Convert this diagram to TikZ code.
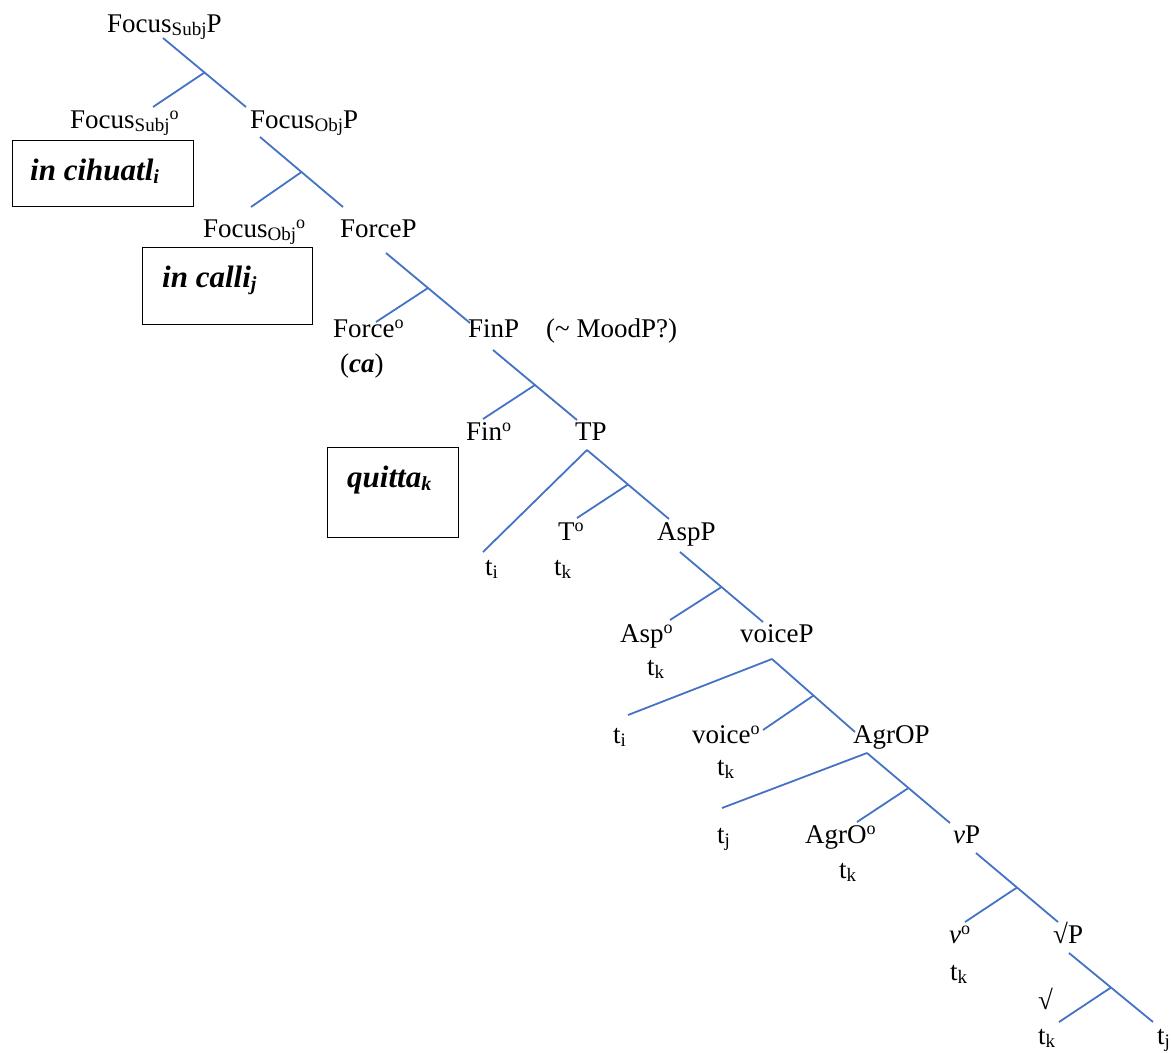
\documentclass[tikz,border=0pt]{standalone}
\usepackage{fontspec}
\setmainfont{Liberation Serif}
\usetikzlibrary{calc}
\definecolor{branch}{RGB}{68,114,196}
\newcommand\sbx[1]{\raisebox{-3pt}{\fontsize{19}{20}\selectfont #1}}
\newcommand\dgo{\raisebox{9pt}{\fontsize{18}{19}\selectfont o}}
\newcommand\bsb[1]{\raisebox{-3pt}{\fontsize{20}{22}\selectfont\bfseries\itshape #1}}
\newcommand\binbr[3]{\draw[br] (#1) -- (#2); \draw[br] ($(#1)!0.5!(#2)$) -- (#3);}
\begin{document}
\begin{tikzpicture}[x=1pt,y=-1pt,
  lab/.style={anchor=base west,inner sep=0pt,font=\fontsize{27}{30}\selectfont},
  boxt/.style={anchor=base west,inner sep=0pt,font=\fontsize{31}{34}\selectfont\bfseries\itshape},
  frame/.style={draw=black,line width=1.3pt,anchor=north west,inner sep=0pt},
  br/.style={draw=branch,line width=1.8pt}]
\useasboundingbox (0,0) rectangle (1171,1053);

% labels
\node[lab] (fsp) at (107,32) {Focus\sbx{Subj}P};
\node[lab] (fso) at (70,128) {Focus\sbx{Subj}\dgo};
\node[lab] (fop) at (250,128) {Focus\sbx{Obj}P};
\node[lab] (foo) at (203,237) {Focus\sbx{Obj}\dgo};
\node[lab] (frp) at (340,237) {ForceP};
\node[lab] (frh) at (333,337) {Force\dgo};
\node[lab] (ca) at (340,372) {(\textbf{\textit{ca}})};
\node[lab] (finp) at (468,337) {FinP};
\node[lab] (mood) at (546,337) {(\textasciitilde{} MoodP?)};
\node[lab] (finh) at (466,440) {Fin\dgo};
\node[lab] (tp) at (575,440) {TP};
\node[lab] (th) at (558,540) {T\dgo};
\node[lab] (ti1) at (485,575) {t\sbx{i}};
\node[lab] (tk1) at (554,575) {t\sbx{k}};
\node[lab] (aspp) at (657,540) {AspP};
\node[lab] (asph) at (620,642) {Asp\dgo};
\node[lab] (tk2) at (647,675) {t\sbx{k}};
\node[lab] (vcp) at (740,642) {voiceP};
\node[lab] (ti2) at (613,743) {t\sbx{i}};
\node[lab] (vch) at (692,743) {voice\dgo};
\node[lab] (tk3) at (717,775) {t\sbx{k}};
\node[lab] (agrp) at (853,743) {AgrOP};
\node[lab] (tj1) at (717,843) {t\sbx{j}};
\node[lab] (agrh) at (805,843) {AgrO\dgo};
\node[lab] (tk4) at (839,878) {t\sbx{k}};
\node[lab] (vp) at (953,843) {\textit{v}P};
\node[lab] (vh) at (949,943) {\textit{v}\dgo};
\node[lab] (tk5) at (950,980) {t\sbx{k}};
\node[lab] (rp) at (1053,943) {√P};
\node[lab] (rt) at (1038,1009) {√};
\node[lab] (tk6) at (1038,1044) {t\sbx{k}};
\node[lab] (tj2) at (1157,1044) {t\sbx{j}};

% boxes
\node[frame,minimum width=181pt,minimum height=66pt] (box1) at (12,140) {};
\node[boxt] (w1) at (30,180) {in cihuatl\bsb{i}};
\node[frame,minimum width=170pt,minimum height=77pt] (box2) at (142,247) {};
\node[boxt] (w2) at (162,287) {in calli\bsb{j}};
\node[frame,minimum width=131pt,minimum height=90pt] (box3) at (327,447) {};
\node[boxt] (w3) at (347,487) {quitta\bsb{k}};

% branch coordinates
\coordinate (a1) at (163,38);  \coordinate (b1) at (246,107); \coordinate (c1) at (153,107);
\coordinate (a2) at (260,137); \coordinate (b2) at (343,207); \coordinate (c2) at (251,207);
\coordinate (a3) at (386,253); \coordinate (b3) at (470,323); \coordinate (c3) at (376,322);
\coordinate (a4) at (493,350); \coordinate (b4) at (577,420); \coordinate (c4) at (483,419);
\coordinate (a5) at (587,450); \coordinate (b5) at (669,519); \coordinate (c5) at (577,518);
\coordinate (d5) at (483,552);
\coordinate (a6) at (680,552); \coordinate (b6) at (763,622); \coordinate (c6) at (670,620);
\coordinate (a7) at (772,659); \coordinate (b7) at (855,732); \coordinate (c7) at (763,730);
\coordinate (d7) at (628,715);
\coordinate (a8) at (867,753); \coordinate (b8) at (950,823); \coordinate (c8) at (857,822);
\coordinate (d8) at (722,808);
\coordinate (a9) at (976,853); \coordinate (b9) at (1058,922); \coordinate (c9) at (965,922);
\coordinate (a10) at (1069,953); \coordinate (b10) at (1153,1022); \coordinate (c10) at (1059,1022);

\binbr{a1}{b1}{c1}
\binbr{a2}{b2}{c2}
\binbr{a3}{b3}{c3}
\binbr{a4}{b4}{c4}
\binbr{a5}{b5}{c5}
\draw[br] (a5) -- (d5);
\binbr{a6}{b6}{c6}
\binbr{a7}{b7}{c7}
\draw[br] (a7) -- (d7);
\binbr{a8}{b8}{c8}
\draw[br] (a8) -- (d8);
\binbr{a9}{b9}{c9}
\binbr{a10}{b10}{c10}
\end{tikzpicture}
\end{document}
